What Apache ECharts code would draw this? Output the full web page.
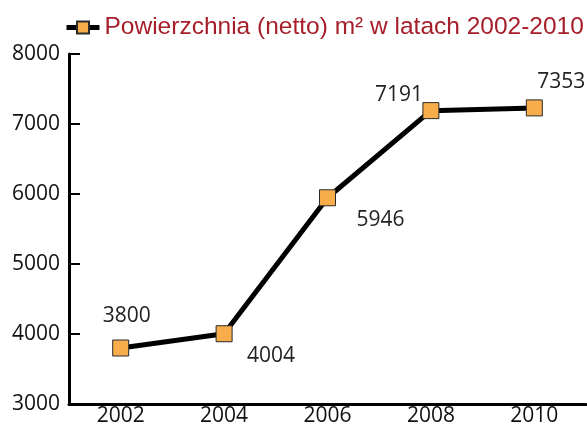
<!DOCTYPE html>
<html>
<head>
<meta charset="utf-8">
<script src="https://cdn.jsdelivr.net/npm/echarts@6/dist/echarts.min.js"></script>
<style>
  html, body { margin: 0; padding: 0; background: #fff; }
  #chart { width: 587px; height: 431px; }
</style>
</head>
<body>
<div id="chart"></div>
<script>
const years = ['2002', '2004', '2006', '2008', '2010'];
// plotted positions
const area = [3800, 4004, 5946, 7191, 7230];
// value labels as printed
const labelTexts = ['3800', '4004', '5946', '7191', '7353'];
const labelOffsets = [[6, -32], [47, 22], [53, 22], [-32, -16], [27, -26]];

const chart = echarts.init(document.getElementById('chart'));

const seriesData = area.map((v, i) => ({
  value: v,
  label: {
    show: true,
    position: 'inside',
    offset: labelOffsets[i],
    formatter: () => labelTexts[i]
  }
}));

chart.setOption({
  animation: false,
  legend: {
    left: 59,
    top: 10,
    itemWidth: 33,
    itemHeight: 15,
    itemGap: 11,
    lineStyle: { width: 5 },
    textStyle: {
      color: '#A61E2A',
      fontSize: 24.5,
      fontFamily: 'Liberation Sans'
    },
    data: ['Powierzchnia (netto) m² w latach 2002-2010']
  },
  grid: {
    left: 69,
    right: 1,
    top: 54,
    bottom: 27,
    containLabel: false
  },
  xAxis: {
    type: 'category',
    data: years,
    boundaryGap: true,
    axisLine: { lineStyle: { color: '#000', width: 3 } },
    axisTick: {
      inside: true,
      length: 10,
      alignWithLabel: true,
      lineStyle: { color: '#000', width: 2 }
    },
    axisLabel: {
      color: '#111',
      fontSize: 21,
      fontFamily: 'Open Sans',
      margin: 2
    }
  },
  yAxis: {
    type: 'value',
    min: 3000,
    max: 8000,
    interval: 1000,
    splitLine: { show: false },
    axisLine: { show: true, lineStyle: { color: '#000', width: 3 } },
    axisTick: {
      show: true,
      inside: true,
      length: 11,
      lineStyle: { color: '#000', width: 2 }
    },
    axisLabel: {
      color: '#111',
      fontSize: 21,
      fontFamily: 'Open Sans',
      margin: 9,
      formatter: (v) => String(v)
    }
  },
  series: [
    {
      name: 'Powierzchnia (netto) m² w latach 2002-2010',
      type: 'line',
      data: seriesData,
      symbol: 'rect',
      symbolSize: 16,
      lineStyle: { color: '#000', width: 5 },
      itemStyle: { color: '#F7AE4A', borderColor: '#2a2a2a', borderWidth: 1 },
      label: {
        color: '#222',
        fontSize: 21,
        fontFamily: 'Open Sans'
      },
      z: 3
    }
  ]
});
</script>
</body>
</html>
